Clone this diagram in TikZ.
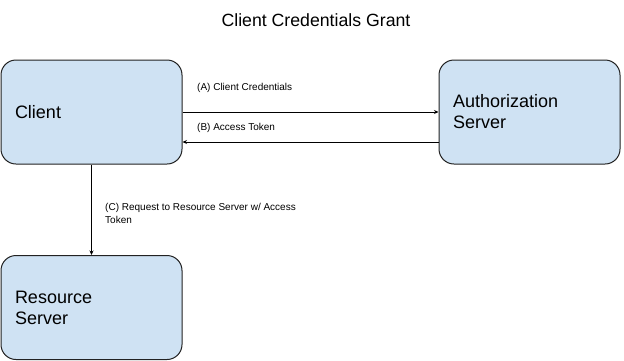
\documentclass[tikz,border=0pt]{standalone}
\usepackage{fontspec}
\setmainfont{Liberation Sans}
\usetikzlibrary{arrows.meta}
\definecolor{boxfill}{HTML}{CFE2F3}
\definecolor{boxline}{HTML}{222222}
\begin{document}
\begin{tikzpicture}[x=1pt,y=-1pt,
  box/.style={draw=boxline,line width=1pt,fill=boxfill,rounded corners=15pt,
    minimum width=181pt,minimum height=104pt,inner xsep=14pt,
    text width=153pt,align=left,font=\fontsize{18}{21}\selectfont},
  lbl/.style={anchor=west,inner sep=0pt,align=left,font=\fontsize{10}{13}\selectfont},
  conn/.style={line width=0.8pt,-{Stealth[length=4.5pt,width=4pt]}}]
\useasboundingbox (0,0) rectangle (624,360);
\node[font=\fontsize{17.7}{20}\selectfont] (title) at (316,20) {Client Credentials Grant};
\node[box] (client) at (91.5,112) {Client};
\node[box] (auth) at (529.5,112) {Authorization\\Server};
\node[box] (res) at (91.5,307.5) {Resource\\Server};
\draw[conn] (client.east) -- (client.east -| auth.west);
\coordinate (bstart) at ([yshift=-30pt]auth.west);
\draw[conn] (bstart) -- (bstart -| client.east);
\draw[conn] (client.south) -- (res.north);
\node[lbl] (la) at (197,88) {(A) Client Credentials};
\node[lbl] (lb) at (197,128) {(B) Access Token};
\node[lbl,anchor=north west] (lc) at (105,203) {(C) Request to Resource Server w/ Access\\Token};
\end{tikzpicture}
\end{document}
